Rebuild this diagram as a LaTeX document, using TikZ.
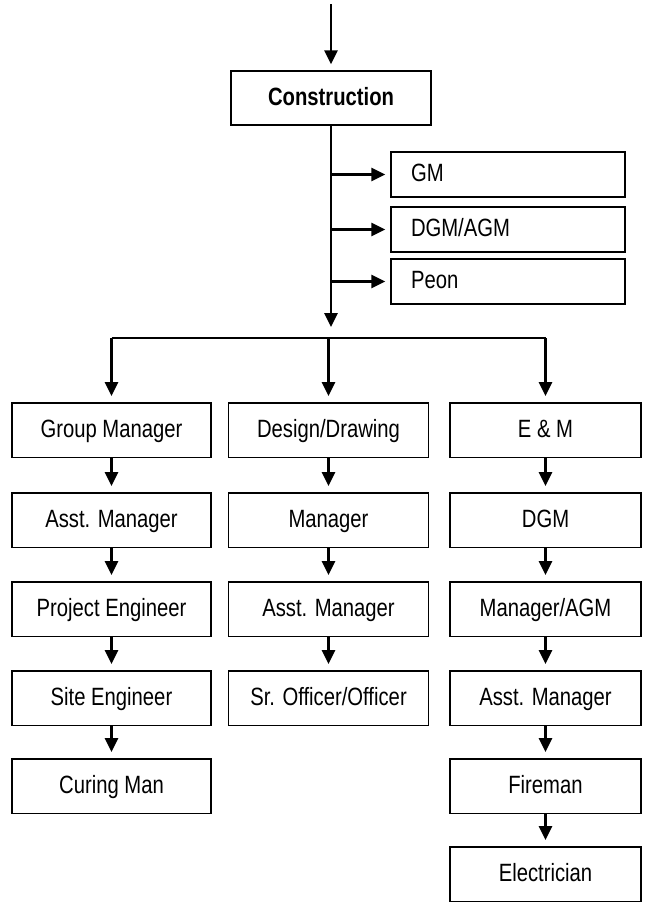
\documentclass[tikz,border=0pt]{standalone}
\usepackage{fontspec}
\setmainfont{Liberation Sans}[FakeStretch=0.81]
\usetikzlibrary{arrows.meta}
\begin{document}
\begin{tikzpicture}[x=1pt,y=-1pt,
  txt/.style={font=\fontsize{25}{29}\selectfont,text height=18pt,text depth=4pt},
  box/.style={draw,line width=1.5pt,inner sep=0pt,minimum height=54.5pt,txt},
  lbox/.style={box,minimum width=199pt},
  mbox/.style={box,minimum width=200pt},
  rbox/.style={box,minimum width=191pt},
  sidebox/.style={draw,line width=1.5pt,minimum height=45pt,inner ysep=0pt,
    inner xsep=20pt,text width=194pt,align=left,txt},
  conn/.style={line width=2.6pt,-{Triangle[length=14pt,width=13pt]},shorten >=6pt},
  barline/.style={line width=1.8pt,line cap=square}
]
\useasboundingbox (0,0) rectangle (647,902);

% top
\node[box,minimum width=200pt,minimum height=54pt,
  font=\fontsize{25}{29}\selectfont\bfseries] (con) at (331,98) {Construction};
\node[sidebox] (gm) at (508,174.5) {GM};
\node[sidebox] (dgm) at (508,229.5) {DGM/AGM};
\node[sidebox] (peon) at (508,281.5) {Peon};

% left column
\node[lbox] (g1) at (111.5,430) {Group Manager};
\node[lbox] (g2) at (111.5,520) {Asst. Manager};
\node[lbox] (g3) at (111.5,609) {Project Engineer};
\node[lbox] (g4) at (111.5,698) {Site Engineer};
\node[lbox] (g5) at (111.5,786) {Curing Man};

% middle column
\node[mbox] (d1) at (328.5,430) {Design/Drawing};
\node[mbox] (d2) at (328.5,520) {Manager};
\node[mbox] (d3) at (328.5,609) {Asst. Manager};
\node[mbox] (d4) at (328.5,698) {Sr. Officer/Officer};

% right column
\node[rbox] (e1) at (545.5,430) {E \& M};
\node[rbox] (e2) at (545.5,520) {DGM};
\node[rbox] (e3) at (545.5,609) {Manager/AGM};
\node[rbox] (e4) at (545.5,698) {Asst. Manager};
\node[rbox] (e5) at (545.5,786) {Fireman};
\node[rbox] (e6) at (545.5,874) {Electrician};

% connectors
\coordinate (top) at (331,4);
\coordinate (mid) at (331,327);
\coordinate (bar) at (331,338);
\draw[conn] (top) -- (con);
\draw[conn,shorten >=0pt] (con) -- (mid);
\draw[conn,shorten >=5pt] (con.south |- gm.west) -- (gm);
\draw[conn,shorten >=5pt] (con.south |- dgm.west) -- (dgm);
\draw[conn,shorten >=5pt] (con.south |- peon.west) -- (peon);

\draw[barline] (g1.north |- bar) -- (e1.north |- bar);
\draw[conn] (g1.north |- bar) -- (g1);
\draw[conn] (d1.north |- bar) -- (d1);
\draw[conn] (e1.north |- bar) -- (e1);

\draw[conn] (g1) -- (g2);
\draw[conn] (g2) -- (g3);
\draw[conn] (g3) -- (g4);
\draw[conn] (g4) -- (g5);

\draw[conn] (d1) -- (d2);
\draw[conn] (d2) -- (d3);
\draw[conn] (d3) -- (d4);

\draw[conn] (e1) -- (e2);
\draw[conn] (e2) -- (e3);
\draw[conn] (e3) -- (e4);
\draw[conn] (e4) -- (e5);
\draw[conn] (e5) -- (e6);
\end{tikzpicture}
\end{document}
